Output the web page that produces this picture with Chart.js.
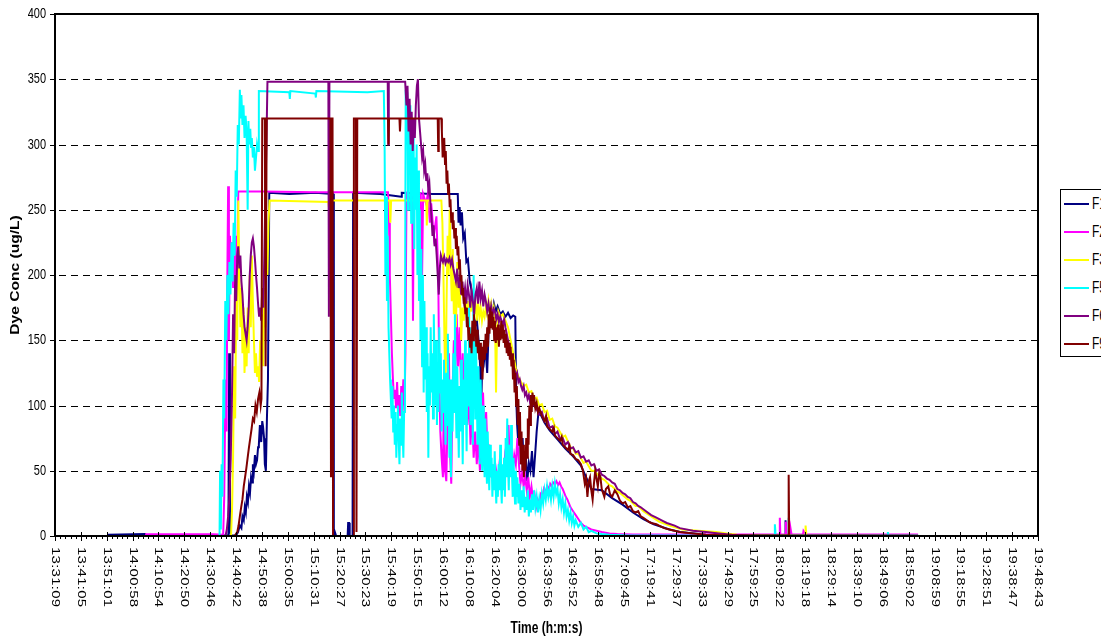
<!DOCTYPE html>
<html>
<head>
<meta charset="utf-8">
<script src="https://cdn.jsdelivr.net/npm/chart.js@4.4.1/dist/chart.umd.min.js"></script>
<style>
  html, body { margin: 0; padding: 0; background: #fff; overflow: hidden; width: 1101px; height: 638px; }
  #wrap { position: relative; width: 1101px; height: 638px; }
  canvas { position: absolute; left: 0; top: 0; }
  #legend { position: absolute; left: 1060px; top: 189px; width: 70px; height: 168px; border: 1px solid #000; background: #fff; box-sizing: border-box; }
  .entry { position: absolute; left: 0; height: 28px; width: 70px; }
  .entry .ln { position: absolute; left: 3px; top: 13px; width: 25px; height: 2px; }
  .entry .tx { position: absolute; left: 31px; top: 5px; font: 12px "Liberation Sans", Arial, sans-serif; color: #000; transform: scaleY(1.3); transform-origin: left center; line-height: 18px; }
</style>
</head>
<body>
<div id="wrap">
  <canvas id="c" width="1101" height="638"></canvas>
  <div id="legend"></div>
</div>
<script>
// ---- Data (time = minutes elapsed since 13:31:09, value = dye conc ug/L) ----
const tickLabels = ['13:31:09','13:41:05','13:51:01','14:00:58','14:10:54','14:20:50','14:30:46','14:40:42','14:50:38','15:00:35','15:10:31','15:20:27','15:30:23','15:40:19','15:50:15','16:00:12','16:10:08','16:20:04','16:30:00','16:39:56','16:49:52','16:59:48','17:09:45','17:19:41','17:29:37','17:39:33','17:49:29','17:59:25','18:09:22','18:19:18','18:29:14','18:39:10','18:49:06','18:59:02','19:08:59','19:18:55','19:28:51','19:38:47','19:48:43'];
const yTicks = [0, 50, 100, 150, 200, 250, 300, 350, 400];
const seriesNames = ['F1', 'F2', 'F3', 'F5', 'F6', 'F9'];
const seriesColors = ['#000080', '#FF00FF', '#FFFF00', '#00FFFF', '#800080', '#800000'];
const xTitle = 'Time (h:m:s)';
const yTitle = 'Dye Conc (ug/L)';

const f1 = [[20.3,1],[34.6,1.5],[35,0.3],[66.6,0.3],[66.9,140],[67.2,4],[67.6,0.3],[69.5,0.3],[70.3,3],[71,8],[71.6,6],[72,15],[72.5,12],[72.9,22],[73.3,18],[73.7,30],[74.1,26],[74.5,38],[74.9,33],[75.3,45],[75.7,41],[76,55],[76.4,50],[76.8,62],[77.2,55],[77.6,58],[78,68],[78.3,70],[78.7,85],[79,76],[79.2,72],[79.6,88],[79.9,84],[80.3,75],[80.6,55],[81,50],[81.4,90],[81.8,120],[82.1,200],[82.3,263],[90,262],[100,263],[106.9,262],[107.1,0],[107.5,3],[108,0],[112.4,0],[112.6,10],[113,10],[113.2,0],[114.3,0],[114.5,263],[125,262],[133,260],[133.2,263],[145,262],[154.7,262],[155,240],[155.4,252],[155.8,238],[156.3,248],[156.8,228],[157.4,232],[158,210],[158.6,212],[159.3,195],[160,188],[160.6,176],[161.3,160],[162,166],[162.7,150],[163.3,130],[163.6,90],[164,125],[164.6,130],[165.3,145],[166,125],[166.6,160],[167.3,175],[168,168],[168.6,178],[169.3,172],[170,176],[171,170],[172,172],[173,168],[174,171],[175,167],[176,169],[176.8,168],[177.1,110],[177.5,85],[178,70],[178.5,85],[179,55],[179.6,75],[180.2,48],[180.8,62],[181.4,42],[182,56],[182.6,50],[183.2,65],[183.8,45],[184.4,62],[185,80],[185.7,95],[186.3,94],[188,87],[190,81],[193,74],[196,67],[199,61],[202,54],[206,36],[210,35],[214,29],[218,24],[222,18],[226,13],[230,9],[236,5],[240,3],[250,1],[280.4,0.3],[280.6,12],[280.8,0.3],[331.5,0.3]];

const f2 = [[34.6,1.3],[61,1.3],[64.6,1],[65,30],[65.5,120],[65.9,80],[66.2,200],[66.5,268],[66.8,150],[67.2,230],[67.6,205],[68,225],[68.4,190],[68.8,215],[69.2,200],[69.6,230],[70,210],[70.4,264],[80,264],[100,263.5],[127.9,263.5],[128.3,240],[128.6,200],[129,170],[129.4,140],[129.8,120],[130.2,105],[130.6,112],[131,98],[131.4,118],[131.8,95],[132.2,108],[132.6,92],[133,115],[133.4,100],[133.8,120],[134.2,95],[134.6,140],[135,263],[135.6,262],[136.2,250],[136.6,263],[137.2,263],[137.5,165],[137.8,262],[138.5,263],[139,250],[139.5,263],[140.5,262],[141,200],[141.4,262],[142.5,255],[143.2,262],[144,240],[144.5,255],[145.5,230],[146.5,245],[147.2,200],[147.6,120],[148,80],[148.5,60],[149,45],[149.4,120],[149.8,50],[150.3,42],[150.8,90],[151.3,140],[151.8,60],[152.2,40],[152.7,110],[153.2,150],[153.7,120],[154.3,170],[154.8,130],[155.4,160],[156,110],[156.6,140],[157.2,95],[157.8,130],[158.4,85],[159,110],[159.6,70],[160.2,95],[160.8,60],[161.4,80],[162,55],[162.6,75],[163.2,50],[163.8,65],[164.4,110],[165,75],[165.6,95],[166.2,60],[166.8,70],[167.4,45],[168,55],[168.6,40],[169.3,52],[170,42],[170.7,55],[171.4,45],[172.1,40],[172.8,60],[173.5,50],[174.2,85],[174.6,60],[175.2,70],[175.8,50],[176.4,62],[177,55],[177.6,75],[178.2,55],[178.8,40],[179.4,48],[180,38],[180.6,45],[181.2,35],[181.8,45],[182.4,30],[183,38],[183.6,28],[184.2,32],[184.8,22],[185.4,28],[186,25],[186.6,32],[187.2,30],[187.8,36],[188.4,33],[189,38],[189.6,36],[190.2,40],[190.8,38],[191.4,41],[192,40],[192.6,42],[193.2,39],[193.8,41],[194.4,38],[195,36],[195.6,33],[196.2,30],[196.8,28],[197.4,25],[198,22],[199,19],[200,16],[201,13],[202,10],[203,8],[204,7],[205,6],[206,5],[208,4],[210,3],[213,2],[216,1.5],[222,1.2],[278.2,1.2],[278.4,14],[278.6,1.2],[280.5,1.2],[280.7,11],[280.9,1.2],[282.3,1.2],[282.5,6],[282.9,1.2],[287.3,1.2],[287.5,4],[288.5,1.2],[331.5,1.2]];

const f3 = [[61,0],[67.6,0],[68,20],[68.4,60],[68.8,130],[69.2,90],[69.6,180],[70,150],[70.4,257],[70.8,200],[71.2,160],[71.6,190],[72,140],[72.4,175],[72.8,125],[73.2,160],[73.6,130],[74,175],[74.4,140],[74.8,200],[75.2,160],[75.6,215],[76,180],[76.4,150],[76.8,125],[77.2,140],[77.6,122],[78,130],[78.4,118],[78.8,150],[79.2,135],[79.6,170],[80,130],[80.4,190],[80.8,160],[81.2,220],[81.6,200],[82,240],[82.4,257],[105,256],[105.2,252],[105.4,257],[128.5,257],[128.8,240],[129.1,257],[142.6,257],[142.8,238],[143.1,257],[148.4,257],[148.8,240],[149.2,200],[149.6,150],[150,110],[150.4,180],[150.8,230],[151.2,200],[151.6,250],[152,210],[152.4,180],[152.8,220],[153.2,170],[153.6,195],[154,160],[154.5,210],[155,175],[155.5,190],[156,150],[156.5,175],[157,165],[157.5,185],[158,170],[158.5,180],[159,165],[159.5,182],[160,172],[160.5,185],[161,170],[161.5,178],[162,165],[162.5,180],[163,168],[163.5,175],[164,165],[164.5,172],[165,168],[165.5,175],[166,170],[166.5,180],[167,172],[167.5,178],[168,170],[168.5,175],[169,165],[169.4,110],[169.8,160],[170.3,172],[171,168],[172,170],[173,165],[174,160],[175,150],[176,140],[177,128],[178,122],[179,118],[180,115],[181,116],[182,110],[183,111],[184,105],[185,106],[186,100],[187,101],[188,95],[189,96],[190,89],[191,90],[192,84],[193,83],[195,76],[196,77],[198,68],[199,67],[200,63],[201,63],[203,56],[204,57],[206,50],[207,50],[210,44],[211,43],[213,39],[214,38],[216,34],[217,33],[220,28],[221,27],[223,23],[224,23],[226,19],[229,15],[232,11],[236,8],[241,5],[247,4],[254,3],[258,2],[262,1],[288.1,0.5],[288.3,8],[288.6,0.5],[331.5,0.3]];

const f5 = [[61,0],[63.2,0],[63.4,50],[63.7,5],[64,55],[64.3,30],[64.7,120],[65,90],[65.4,180],[65.8,150],[66.2,200],[66.6,170],[67,210],[67.4,185],[67.8,225],[68.2,195],[68.6,240],[69,215],[69.4,280],[69.8,260],[70.2,315],[70.6,300],[71,342],[71.3,320],[71.6,338],[72,315],[72.4,330],[72.8,305],[73.2,322],[73.6,310],[74,250],[74.3,318],[74.6,300],[75,312],[75.3,298],[75.6,305],[76,290],[76.4,298],[76.8,280],[77.2,290],[77.6,300],[78,295],[78.3,341],[90,340],[90.2,335],[90.4,341],[100,339],[100.2,336],[100.4,341],[120,340],[126.3,341],[126.6,300],[126.9,200],[127.2,260],[127.5,180],[127.8,230],[128.1,160],[128.4,140],[128.7,120],[129,105],[129.3,90],[129.6,115],[129.9,80],[130.2,100],[130.5,70],[130.8,95],[131.1,60],[131.4,85],[131.7,100],[132,75],[132.3,55],[132.6,90],[132.9,70],[133.2,110],[133.5,80],[133.8,60],[134.1,95],[134.4,130],[134.7,342],[135,300],[135.3,340],[135.6,250],[135.9,320],[136.2,290],[136.5,330],[136.8,240],[137.1,300],[137.4,270],[137.7,320],[138,220],[138.3,290],[138.6,250],[138.9,300],[139.2,200],[139.5,280],[139.8,180],[140.1,250],[140.4,150],[140.7,220],[141,130],[141.3,200],[141.6,110],[141.9,180],[142.2,120],[142.5,160],[142.8,95],[143.1,140],[143.4,60],[143.7,130],[144,100],[144.3,160],[144.6,110],[144.9,140],[145.2,90],[145.5,170],[145.8,120],[146.1,100],[146.4,150],[146.7,85],[147,130],[147.3,95],[147.6,160],[147.9,110],[148.2,140],[148.5,80],[148.8,120],[149.1,95],[149.4,135],[149.7,100],[150,70],[150.3,125],[150.6,85],[150.9,155],[151.2,100],[151.5,60],[151.8,120],[152.1,45],[152.4,110],[152.7,80],[153,140],[153.3,95],[153.6,170],[153.9,110],[154.2,75],[154.5,130],[154.8,90],[155.1,60],[155.4,115],[155.7,80],[156,135],[156.3,100],[156.6,55],[156.9,120],[157.2,85],[157.5,150],[157.8,105],[158.1,65],[158.4,140],[158.7,100],[159,175],[159.3,120],[159.6,85],[159.9,160],[160.2,115],[160.5,70],[160.8,200],[161.1,130],[161.4,90],[161.7,150],[162,110],[162.3,70],[162.6,130],[162.9,95],[163.2,55],[163.5,120],[163.8,80],[164.1,50],[164.4,100],[164.7,70],[165,45],[165.3,90],[165.6,60],[165.9,40],[166.2,80],[166.5,55],[166.8,35],[167.1,70],[167.4,45],[167.7,60],[168,30],[168.3,55],[168.6,35],[168.9,65],[169.2,40],[169.5,25],[169.8,50],[170.1,30],[170.4,55],[170.7,35],[171,70],[171.3,40],[171.6,25],[171.9,55],[172.2,35],[172.5,60],[172.8,30],[173.1,75],[173.4,45],[173.7,90],[174,55],[174.3,35],[174.6,70],[174.9,45],[175.2,85],[175.5,50],[175.8,30],[176.1,60],[176.4,40],[176.7,25],[177,50],[177.3,30],[177.6,45],[178,25],[178.4,40],[178.8,20],[179.2,35],[179.6,22],[180,38],[180.4,18],[180.8,30],[181.2,20],[181.6,35],[182,15],[182.4,28],[182.8,18],[183.2,32],[183.6,20],[184,35],[184.5,22],[185,30],[185.5,18],[186,28],[186.5,20],[187,32],[187.5,25],[188,35],[188.5,28],[189,38],[189.5,30],[190,36],[190.5,28],[191,38],[191.5,30],[192,40],[192.5,32],[193,36],[193.5,25],[194,32],[194.5,22],[195,28],[195.5,18],[196,25],[196.5,15],[197,20],[197.5,12],[198,18],[198.5,10],[199,15],[199.5,8],[200,12],[201,7],[202,10],[203,5],[204,7],[205,3],[206,4],[208,2],[210,1.5],[213,1],[220,0.3],[276.3,0.3],[276.5,9],[276.8,0.3],[281.6,0.3],[281.8,14],[282,0.3],[319.7,0.3],[319.9,3],[320.1,0.3],[331.5,0.3]];

const f6 = [[61,0],[65.5,0],[66,5],[66.5,15],[67,30],[67.5,60],[68,110],[68.4,170],[68.8,140],[69.2,200],[69.6,180],[70,215],[70.4,222],[70.8,205],[71.2,215],[71.6,195],[72,185],[72.4,170],[72.8,160],[73.2,155],[73.6,150],[74,160],[74.4,175],[74.8,200],[75.2,215],[75.6,225],[76,228],[76.4,222],[76.8,212],[77.2,200],[77.6,190],[78,178],[78.4,168],[78.8,175],[79.2,165],[79.6,190],[80,175],[80.4,215],[80.8,260],[81.2,300],[81.6,348],[105,348],[105.2,168],[105.4,348],[127.8,348],[128,300],[128.2,348],[134.5,348],[135,330],[135.4,345],[135.8,310],[136.2,335],[136.6,300],[137,325],[137.4,295],[137.8,320],[138.2,305],[138.6,330],[139,345],[139.4,350],[139.8,320],[140.2,310],[140.6,300],[141,290],[141.4,295],[141.8,280],[142.2,285],[142.6,272],[143,278],[143.4,265],[143.8,270],[144.2,255],[144.6,245],[145,230],[145.4,238],[145.8,222],[146.2,228],[146.6,215],[147,200],[147.4,185],[147.8,205],[148.2,215],[148.6,212],[149,210],[149.5,214],[150,209],[150.5,212],[151,210],[151.5,213],[152,208],[152.5,212],[153,205],[153.5,200],[154,195],[154.5,205],[155,190],[155.5,198],[156,185],[156.5,195],[157,182],[157.5,190],[158,178],[158.5,192],[159,185],[159.5,175],[160,188],[160.5,180],[161,170],[161.5,185],[162,190],[162.5,178],[163,195],[163.5,182],[164,188],[164.5,176],[165,185],[165.5,180],[166,172],[166.5,178],[167,170],[167.5,176],[168,168],[168.5,174],[169,172],[169.5,166],[170,170],[170.5,164],[171,168],[171.5,165],[172,162],[172.5,166],[173,160],[173.5,155],[174,150],[174.5,145],[175,140],[175.5,135],[176,130],[176.5,128],[177,122],[177.5,125],[178,118],[178.5,120],[179,115],[179.5,112],[180,115],[180.5,108],[181,110],[181.5,105],[182,108],[182.5,102],[183,104],[184,100],[185,97],[186,93],[187,95],[188,88],[189,90],[190,83],[191,84],[192,78],[193,80],[194,74],[195,75],[196,70],[197,72],[198,67],[199,68],[200,64],[201,65],[202,60],[203,61],[204,57],[205,58],[206,54],[207,55],[208,50],[209,51],[210,47],[211,46],[212,44],[213,43],[214,41],[215,40],[216,36],[217,35],[218,33],[219,32],[220,30],[221,29],[222,26],[223,25],[224,23],[225,22],[227,19],[229,16],[231,14],[233,12],[235,10],[238,8],[240,6],[245,4],[250,3],[255,2],[260,1],[270,0.3],[331.5,0.3]];

const f9 = [[61,0],[69,0],[70,3],[70.5,8],[71,15],[71.5,22],[72,28],[72.5,38],[73,45],[73.5,52],[74,60],[74.5,68],[75,75],[75.5,82],[76,90],[76.5,88],[77,100],[77.5,95],[78,105],[78.5,110],[79,100],[79.3,105],[79.6,320],[80.6,320],[80.9,130],[81.3,320],[105.8,320],[106,45],[106.2,320],[106.6,320],[106.8,0],[114.6,0],[114.8,320],[115.6,320],[115.8,3],[116.1,320],[127.9,320],[128.1,300],[128.3,320],[132.3,320],[132.5,310],[132.7,320],[147,320],[147.2,295],[147.4,320],[148.4,320],[148.6,310],[148.9,290],[149.2,300],[149.5,305],[149.8,285],[150.1,295],[150.4,270],[150.7,280],[151,262],[151.3,270],[151.6,252],[151.9,258],[152.2,240],[152.5,248],[152.8,235],[153.1,242],[153.4,228],[153.7,236],[154,220],[154.3,230],[154.6,215],[154.9,222],[155.2,205],[155.5,212],[155.8,195],[156.1,200],[156.4,185],[156.7,190],[157,178],[157.3,183],[157.6,170],[157.9,175],[158.2,160],[158.5,168],[158.8,150],[159.1,160],[159.4,145],[159.7,155],[160,140],[160.3,165],[160.6,150],[160.9,170],[161.2,155],[161.5,165],[161.8,145],[162.1,158],[162.4,140],[162.7,150],[163,135],[163.3,148],[163.6,130],[163.9,145],[164.2,120],[164.5,140],[164.8,150],[165.1,135],[165.4,155],[165.7,140],[166,160],[166.3,145],[166.6,170],[166.9,155],[167.2,175],[167.5,160],[167.8,172],[168.1,158],[168.4,168],[168.7,150],[169,165],[169.3,148],[169.6,160],[169.9,150],[170.2,162],[170.5,145],[170.8,158],[171.1,150],[171.4,165],[171.7,152],[172,162],[172.3,148],[172.6,158],[172.9,145],[173.2,155],[173.5,140],[173.8,150],[174.1,138],[174.4,148],[174.7,135],[175,145],[175.3,130],[175.6,140],[175.9,120],[176.2,135],[176.5,110],[176.8,125],[177.1,100],[177.4,115],[177.7,85],[178,105],[178.3,70],[178.6,95],[178.9,55],[179.2,80],[179.5,50],[179.8,70],[180.1,45],[180.4,65],[180.7,50],[181,75],[181.3,60],[181.6,90],[181.9,70],[182.2,100],[182.5,85],[182.8,108],[183.1,95],[183.4,110],[183.7,100],[184,108],[184.5,98],[185,102],[185.5,95],[186,98],[187,92],[188,88],[188.6,92],[189,84],[190,82],[191,80],[191.6,83],[192,77],[193,75],[194,73],[194.6,76],[195,70],[196,68],[197,66],[197.6,69],[198,63],[199,62],[200,59],[201,58],[202,55],[202.8,50],[203.5,40],[204,44],[204.5,30],[205,42],[205.5,45],[206,35],[206.5,28],[207,40],[207.5,50],[208,44],[208.5,38],[209,48],[209.5,45],[210,36],[211,30],[211.6,36],[212.5,38],[213.2,32],[214,30],[215,35],[216,32],[217,27],[218,25],[219,26],[220,22],[221,23],[222,19],[223,18],[224,19],[225,15],[226,14],[228,11],[229,10],[231,9],[232,8],[234,6],[236,5],[238,4],[240,3],[245,2],[250,1],[260,0.3],[281.6,0.3],[281.8,47],[282,0.3],[331.5,0]];

const seriesData = [f1, f2, f3, f5, f6, f9];

// ---- helpers ----
function toSec(s) { const p = s.split(':').map(Number); return p[0] * 3600 + p[1] * 60 + p[2]; }
const t0 = toSec(tickLabels[0]);
const tickValues = tickLabels.map(s => (toSec(s) - t0) / 60);
const TEXT_STRETCH = 1.3; // vertical stretch of the original rendering's text
const FONT = '"Liberation Sans", Arial, sans-serif';

function drawText(ctx, text, x, y, angle, font, align, baseline, spacing) {
  ctx.save();
  ctx.translate(x, y);
  ctx.scale(1, TEXT_STRETCH);
  ctx.rotate(angle);
  ctx.font = font;
  ctx.fillStyle = '#000';
  ctx.textAlign = align;
  ctx.textBaseline = baseline;
  if (spacing) ctx.letterSpacing = spacing + 'px';
  ctx.fillText(text, 0, 0);
  ctx.restore();
}

const decorPlugin = {
  id: 'decor',
  beforeDatasetsDraw(chart) {
    const { ctx, chartArea: a, scales: { y } } = chart;
    ctx.save();
    ctx.strokeStyle = '#000';
    ctx.lineWidth = 1;
    ctx.setLineDash([7, 5]);
    yTicks.forEach(v => {
      if (v === yTicks[0] || v === yTicks[yTicks.length - 1]) return;
      const py = Math.round(y.getPixelForValue(v)) + 0.5;
      ctx.beginPath();
      ctx.moveTo(a.left + 4, py);
      ctx.lineTo(a.right, py);
      ctx.stroke();
    });
    ctx.restore();
  },
  afterDatasetsDraw(chart) {
    const { ctx, chartArea: a, scales: { x, y } } = chart;
    ctx.save();
    // frame
    ctx.strokeStyle = '#000';
    ctx.lineWidth = 2;
    ctx.strokeRect(a.left, a.top, a.right - a.left, a.bottom - a.top);
    // y ticks + labels
    ctx.lineWidth = 1;
    yTicks.forEach(v => {
      const py = Math.round(y.getPixelForValue(v)) + 0.5;
      ctx.beginPath();
      ctx.moveTo(a.left - 5, py);
      ctx.lineTo(a.left, py);
      ctx.stroke();
      drawText(ctx, String(v), a.left - 9, py, 0, '11px ' + FONT, 'right', 'middle');
    });
    // x ticks (major crossing, minor below) + labels
    tickValues.forEach((tv, i) => {
      const px = Math.round(x.getPixelForValue(tv)) + 0.5;
      ctx.beginPath();
      ctx.moveTo(px, a.bottom - 4);
      ctx.lineTo(px, a.bottom + 5);
      ctx.stroke();
      if (i < tickValues.length - 1) {
        const step = (tickValues[i + 1] - tv) / 5;
        for (let k = 1; k < 5; k++) {
          const mx = Math.round(x.getPixelForValue(tv + k * step)) + 0.5;
          ctx.beginPath();
          ctx.moveTo(mx, a.bottom);
          ctx.lineTo(mx, a.bottom + 3);
          ctx.stroke();
        }
      }
      drawText(ctx, tickLabels[i], px, a.bottom + 11, Math.PI / 2, '11.5px ' + FONT, 'left', 'middle', 0.2);
    });
    // axis titles
    drawText(ctx, xTitle, (a.left + a.right) / 2, 629, 0, 'bold 12px ' + FONT, 'center', 'middle');
    drawText(ctx, yTitle, 16, (a.top + a.bottom) / 2, -Math.PI / 2, 'bold 12px ' + FONT, 'center', 'middle');
    ctx.restore();
  }
};

const datasets = seriesData.map((pts, i) => ({
  label: seriesNames[i],
  data: pts.map(([t, v]) => ({ x: t, y: v })),
  borderColor: seriesColors[i],
  backgroundColor: seriesColors[i],
  borderWidth: 2,
  pointRadius: 0,
  tension: 0,
  fill: false,
  order: seriesData.length - i
}));

new Chart(document.getElementById('c'), {
  type: 'line',
  data: { datasets },
  options: {
    responsive: false,
    animation: false,
    devicePixelRatio: 1,
    events: [],
    parsing: false,
    layout: { padding: { top: 14, right: 63, bottom: 0, left: 0 } },
    plugins: { legend: { display: false }, tooltip: { enabled: false } },
    scales: {
      x: {
        type: 'linear',
        min: tickValues[0],
        max: tickValues[tickValues.length - 1],
        afterBuildTicks: s => { s.ticks = tickValues.map(v => ({ value: v })); },
        afterFit: s => { s.height = 102; },
        ticks: { display: false },
        grid: { display: false },
        border: { display: false }
      },
      y: {
        type: 'linear',
        min: yTicks[0],
        max: yTicks[yTicks.length - 1],
        afterBuildTicks: s => { s.ticks = yTicks.map(v => ({ value: v })); },
        afterFit: s => { s.width = 55; },
        ticks: { display: false },
        grid: { display: false },
        border: { display: false }
      }
    }
  },
  plugins: [decorPlugin]
});

// legend (HTML)
const legend = document.getElementById('legend');
seriesNames.forEach((name, i) => {
  const e = document.createElement('div');
  e.className = 'entry';
  e.style.top = (i * 28) + 'px';
  const ln = document.createElement('div');
  ln.className = 'ln';
  ln.style.background = seriesColors[i];
  const tx = document.createElement('div');
  tx.className = 'tx';
  tx.textContent = name;
  e.appendChild(ln);
  e.appendChild(tx);
  legend.appendChild(e);
});
</script>
</body>
</html>
